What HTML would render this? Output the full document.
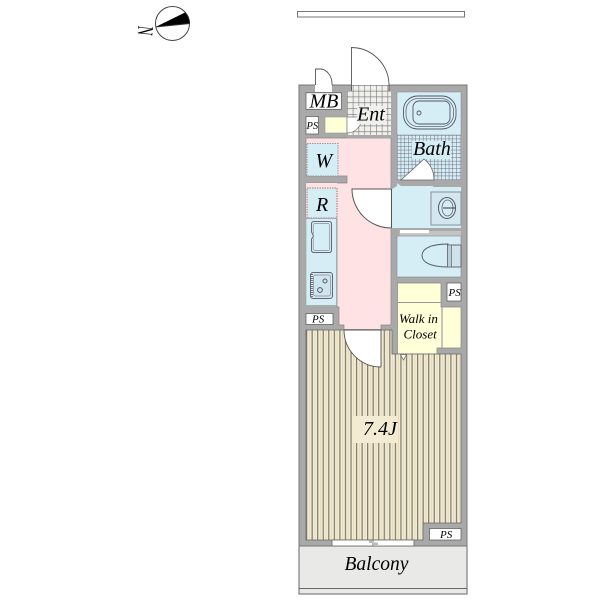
<!DOCTYPE html>
<html><head><meta charset="utf-8"><style>
html,body{margin:0;padding:0;background:#fff}
svg{display:block}
text{font-family:"Liberation Serif",serif;font-style:italic;fill:#000}
</style></head><body>
<svg width="600" height="600" viewBox="0 0 600 600" xmlns="http://www.w3.org/2000/svg">
<defs>
<pattern id="wood" width="5.55" height="10" patternUnits="userSpaceOnUse" x="306">
<rect width="5.55" height="10" fill="#f3ebd2"/>
<rect x="0" width="1.2" height="10" fill="#7d7a6c"/>
<rect x="3" width="0.8" height="10" fill="#e0d7b8"/>
</pattern>
<pattern id="tile" width="5.8" height="5.8" patternUnits="userSpaceOnUse" x="347" y="85">
<rect width="5.8" height="5.8" fill="#f0f0ed"/>
<path d="M0 0H5.8M0 0V5.8" stroke="#6f6f6f" stroke-width="1.1" fill="none"/>
</pattern>
<pattern id="btile" width="3.7" height="3.7" patternUnits="userSpaceOnUse" x="397" y="135">
<rect width="3.7" height="3.7" fill="#d5edf4"/>
<path d="M0 0H3.7M0 0V3.7" stroke="#667" stroke-width="0.9" fill="none"/>
</pattern>
</defs>

<!-- top bar -->
<rect x="297.5" y="11.5" width="167" height="5.5" fill="#fff" stroke="#777" stroke-width="1"/>

<!-- compass -->
<circle cx="172.5" cy="23.5" r="17" fill="#fff" stroke="#444" stroke-width="1"/>
<path d="M155.5 27 L185 12.5 Q189 17 190 23.5 Z" fill="#000"/>
<line x1="155.5" y1="27" x2="190" y2="23.5" stroke="#333" stroke-width="1"/>
<text transform="translate(138.5,25.5) rotate(96) scale(0.9,1.6)" font-size="14" style="font-style:normal">N</text>

<!-- balcony -->
<rect x="299" y="546" width="168" height="48" fill="#e9e9e7" stroke="#666" stroke-width="1"/>
<line x1="299" y1="588.5" x2="467" y2="588.5" stroke="#666" stroke-width="1"/>

<!-- walls -->
<rect x="299" y="85" width="168" height="461" fill="#a9a9a9" stroke="#777" stroke-width="1"/>

<!-- door gaps top -->
<rect x="315" y="85" width="17" height="7" fill="#fff"/>
<rect x="351" y="85" width="38" height="6" fill="url(#tile)"/>

<!-- pink room -->
<path d="M306 138 H391 V325 H381 V329.5 H344 V325 H339 V307 H337 V218 H306 V183 H347 V176 H306 Z" fill="#ffe3e4" stroke="#888" stroke-width="0.7"/>
<path d="M306 183 H337 V218 H306 Z" fill="#ffe3e4"/>

<!-- W, R closets -->
<rect x="307" y="143.5" width="31" height="32.5" fill="#d5edf4" stroke="#999" stroke-width="1" stroke-dasharray="1.5 1"/>
<rect x="307" y="188" width="30" height="30" fill="#d5edf4" stroke="#a77" stroke-width="1" stroke-dasharray="1.5 1"/>

<!-- kitchen -->
<rect x="306" y="218.5" width="30.5" height="87" fill="#d5edf4" stroke="#9aa" stroke-width="0.7"/>
<path d="M314 221.5 H329 Q331.5 221.5 331.5 224 V250 Q331.5 252.5 329 252.5 H314 Q311.5 252.5 311.5 250 V239 L313.5 236 L311.5 232 V224 Q311.5 221.5 314 221.5 Z" fill="#d5edf4" stroke="#667" stroke-width="1"/>
<rect x="313.2" y="223.5" width="16.5" height="27" rx="2" fill="none" stroke="#889" stroke-width="0.7"/>
<rect x="310.5" y="272.5" width="22" height="26" rx="2.5" fill="#cfe6ec" stroke="#667" stroke-width="1"/>
<rect x="313.5" y="275" width="17" height="21" rx="2" fill="none" stroke="#889" stroke-width="0.7"/>
<line x1="312" y1="274" x2="312" y2="297" stroke="#555" stroke-width="1.4" stroke-dasharray="1 1"/>
<circle cx="325" cy="281" r="2" fill="none" stroke="#556" stroke-width="1"/>
<circle cx="320" cy="290" r="2.4" fill="none" stroke="#556" stroke-width="1"/>

<!-- room door arc -->
<path d="M352 189 H391 V228 A39 39 0 0 1 352 189 Z" fill="#fff"/>
<path d="M391 228 A39 39 0 0 1 352 189 H391" fill="none" stroke="#555" stroke-width="1"/>

<!-- Ent -->
<rect x="347" y="91" width="44" height="44" fill="url(#tile)"/>
<rect x="347" y="135" width="44" height="3" fill="#a9a9a9"/>
<rect x="325" y="117" width="22" height="16" fill="#ffffd8" stroke="#999" stroke-width="0.6"/>
<path d="M347 117 H362 A15 16 0 0 1 347 133 Z" fill="#fff" stroke="#777" stroke-width="0.7"/>
<rect x="357" y="106" width="29" height="18" fill="#f0f0ed"/>

<!-- MB / PS -->
<rect x="306" y="92.8" width="35.5" height="16.5" fill="#fff" stroke="#555" stroke-width="0.7"/>
<rect x="306" y="116.5" width="12.5" height="17.5" fill="#fff" stroke="#555" stroke-width="0.7"/>
<rect x="306" y="313.5" width="27" height="11" fill="#fff" stroke="#555" stroke-width="0.7"/>

<!-- doors -->
<path d="M315.5 85 V69 H320 A12 15 0 0 1 332 85" fill="#fff" stroke="#555" stroke-width="0.9"/>
<path d="M351.5 91 V47.5 A38 38 0 0 1 389 85 V91" fill="#fff" stroke="#555" stroke-width="0.9"/>
<rect x="352" y="85" width="36.5" height="6" fill="url(#tile)"/>

<!-- bath -->
<rect x="397" y="92" width="64" height="43" fill="#d5edf4" stroke="#888" stroke-width="0.5"/>
<rect x="397" y="135" width="64" height="45" fill="url(#btile)"/>
<rect x="403.5" y="96" width="52.5" height="33" rx="14" fill="none" stroke="#556" stroke-width="0.9"/>
<rect x="406" y="98.5" width="47.5" height="28" rx="12" fill="none" stroke="#667" stroke-width="0.8"/>
<rect x="413" y="101" width="37" height="23" rx="6" fill="none" stroke="#556" stroke-width="0.9"/>
<circle cx="419" cy="113" r="2" fill="none" stroke="#556" stroke-width="0.9"/>
<rect x="412" y="141" width="39" height="18" fill="#d5edf4"/>
<path d="M401 180 L424 159 Q434 167 434 180 Z" fill="#fff" stroke="#666" stroke-width="0.8"/>

<!-- washroom -->
<path d="M392 189 L397 186 V183 L401 186 H433 V187 H461 V228 H392 Z" fill="#d5edf4"/>
<line x1="391.5" y1="189" x2="391.5" y2="228" stroke="#555" stroke-width="1"/>
<rect x="431" y="192" width="30" height="33" fill="#d3e8ee" stroke="#8a9a9f" stroke-width="1.1"/>
<ellipse cx="447" cy="208" rx="8.5" ry="10.5" fill="#d5edf4" stroke="#556" stroke-width="1"/>
<ellipse cx="447.5" cy="208" rx="5.5" ry="8" fill="none" stroke="#667" stroke-width="0.8"/>
<line x1="443" y1="208" x2="456" y2="208" stroke="#556" stroke-width="1.2"/>

<!-- sliding door -->
<rect x="399.5" y="231" width="61.5" height="5" fill="#c4c4c4"/>
<rect x="400" y="230" width="29" height="3.2" fill="#fff"/>

<!-- toilet -->
<rect x="397" y="236" width="64" height="41" fill="#d5edf4" stroke="#888" stroke-width="0.6"/>
<path d="M448 244 C430 244 422 249 422 255.5 C422 262 430 267 448 267 Z" fill="#d5edf4" stroke="#556" stroke-width="0.9"/>
<rect x="447.5" y="245" width="13.5" height="22" fill="#cfe4ea" stroke="#667" stroke-width="1"/>
<rect x="447.5" y="245" width="4" height="22" fill="#b8d0d8" stroke="#667" stroke-width="0.7"/>

<!-- walk-in closet -->
<path d="M397.5 283 H441 V307 H461 V348 H437 V354 H397.5 Z" fill="#ffffd8" stroke="#888" stroke-width="0.7"/>
<line x1="397" y1="302.5" x2="441" y2="302.5" stroke="#999" stroke-width="1"/>
<line x1="442" y1="307" x2="442" y2="348" stroke="#aaa" stroke-width="1.4"/>
<rect x="447" y="283" width="14" height="18" fill="#fff" stroke="#555" stroke-width="0.7"/>

<!-- LDK floor -->
<path d="M306 330 H392 V354 H461 V523 H423 V540 H306 Z" fill="url(#wood)" stroke="#666" stroke-width="0.8"/>
<path d="M344 330 H381 V367 A37 37 0 0 1 344 330 Z" fill="#fff"/>
<path d="M381 367 A37 37 0 0 1 344 330 H381 V367" fill="none" stroke="#555" stroke-width="0.9"/>
<path d="M400.5 354.5 H406.5 L403.5 360 Z" fill="#fff" stroke="#666" stroke-width="0.7"/>
<rect x="353" y="416" width="45" height="27" fill="#f3ebd2"/>

<!-- PS bottom -->
<rect x="429.5" y="528.5" width="31.5" height="11.5" fill="#fff" stroke="#555" stroke-width="0.7"/>

<!-- windows -->
<rect x="332" y="540" width="41" height="6" fill="#fff" stroke="#666" stroke-width="0.8"/>
<rect x="373" y="540" width="41" height="6" fill="#fff" stroke="#666" stroke-width="0.8"/>
<rect x="369" y="540.5" width="4" height="2.5" fill="#bbb"/>
<rect x="374" y="540.5" width="39" height="2" fill="#fff"/>
<rect x="374" y="542.5" width="4" height="2.5" fill="#bbb"/>

<!-- labels -->
<text x="309.5" y="107.5" font-size="20">MB</text>
<text x="357" y="120.5" font-size="20">Ent</text>
<text x="413" y="155" font-size="20">Bath</text>
<text x="315.5" y="167" font-size="20">W</text>
<text x="316" y="211" font-size="20">R</text>
<text x="306.5" y="129" font-size="10.5">PS</text>
<text x="312" y="322.5" font-size="11">PS</text>
<text x="448.5" y="296" font-size="11">PS</text>
<text x="440" y="538" font-size="11">PS</text>
<text x="399" y="323" font-size="13">Walk in</text>
<text x="403.5" y="338.5" font-size="13">Closet</text>
<text x="363" y="435" font-size="20">7.4J</text>
<text x="344.5" y="570" font-size="19.5">Balcony</text>
</svg>
</body></html>
